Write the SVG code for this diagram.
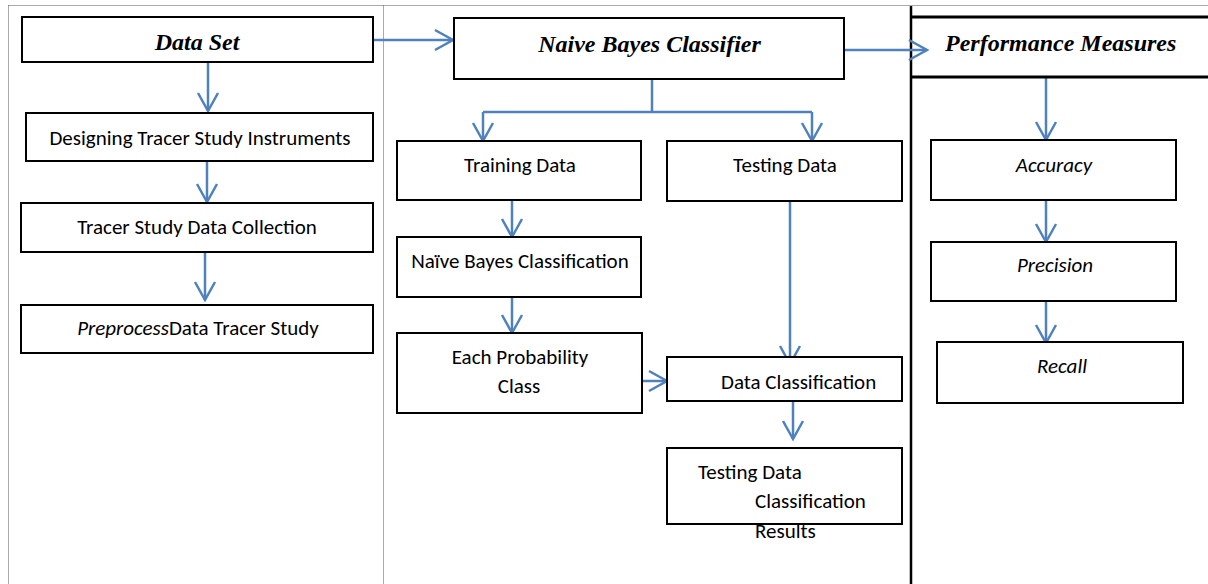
<svg xmlns="http://www.w3.org/2000/svg" width="1208" height="584" viewBox="0 0 1208 584">
<defs>
<marker id="ah" markerUnits="userSpaceOnUse" markerWidth="24" markerHeight="24" viewBox="-20 -12 24 24" refX="0" refY="0" orient="auto">
<path d="M-18,-10 L0,0 L-18,10" fill="none" stroke="#4F81BD" stroke-width="2.5"/>
</marker>
<style>
.box{fill:#fff;stroke:#000;stroke-width:2}
.c{fill:none;stroke:#4F81BD;stroke-width:2.5}
.a{fill:none;stroke:#4F81BD;stroke-width:2.5;marker-end:url(#ah)}
.dot{fill:none;stroke:#555;stroke-width:1;stroke-dasharray:1 1}
.h{font-family:"Liberation Serif","Times New Roman",serif;font-weight:bold;font-style:italic;font-size:24px;fill:#000}
.t{font-family:Carlito,Lato,"Open Sans",sans-serif;font-size:21px;fill:#000}
.i{font-style:italic}
</style>
</defs>
<rect width="1208" height="584" fill="#fff"/>
<g id="frame">
<line class="dot" x1="8.5" y1="5.5" x2="1208" y2="5.5"/>
<line class="dot" x1="8.5" y1="5.5" x2="8.5" y2="584"/>
<line class="dot" x1="383.5" y1="5.5" x2="383.5" y2="584"/>
<line x1="911" y1="6" x2="911" y2="584" stroke="#000" stroke-width="2.5"/>
</g>
<g id="connectors">
<line class="a" x1="373" y1="40" x2="453" y2="40"/>
<line class="a" x1="844" y1="50" x2="927" y2="50"/>
<line class="a" x1="208" y1="62" x2="208" y2="111"/>
<line class="a" x1="207" y1="161" x2="207" y2="202"/>
<line class="a" x1="205" y1="252" x2="205" y2="300"/>
<polyline class="c" points="652,79 652,112"/>
<line class="c" x1="483" y1="112" x2="812" y2="112"/>
<line class="a" x1="483" y1="112" x2="483" y2="141"/>
<line class="a" x1="812" y1="112" x2="812" y2="141"/>
<line class="a" x1="512" y1="200" x2="512" y2="237"/>
<line class="a" x1="512" y1="297" x2="512" y2="333"/>
<line class="a" x1="642" y1="381" x2="667" y2="381"/>
<line class="a" x1="790" y1="201" x2="790" y2="364"/>
<line class="a" x1="793" y1="401" x2="793" y2="439"/>
<line class="a" x1="1046" y1="78" x2="1046" y2="140"/>
<line class="a" x1="1046" y1="200" x2="1046" y2="242"/>
<line class="a" x1="1046" y1="301" x2="1046" y2="343"/>
</g>
<g id="data-set">
<rect class="box" x="22" y="17" width="351" height="45"/>
<text class="h" x="197" y="50" text-anchor="middle">Data Set</text>
</g>
<g id="designing">
<rect class="box" x="26" y="113" width="347" height="48"/>
<text class="t" x="200" y="145" text-anchor="middle">Designing Tracer Study Instruments</text>
</g>
<g id="collection">
<rect class="box" x="21" y="203" width="352" height="49"/>
<text class="t" x="197" y="234" text-anchor="middle">Tracer Study Data Collection</text>
</g>
<g id="preprocess">
<rect class="box" x="21" y="305" width="352" height="48"/>
<text class="t" x="198" y="335" text-anchor="middle"><tspan class="i">Preprocess</tspan>Data Tracer Study</text>
</g>
<g id="naive-bayes">
<rect class="box" x="454" y="18" width="390" height="61"/>
<text class="h" x="649.5" y="52" text-anchor="middle">Naive Bayes Classifier</text>
</g>
<g id="training">
<rect class="box" x="397" y="141" width="244" height="59"/>
<text class="t" x="520" y="172" text-anchor="middle">Training Data</text>
</g>
<g id="testing">
<rect class="box" x="667" y="141" width="235" height="60"/>
<text class="t" x="785" y="172" text-anchor="middle">Testing Data</text>
</g>
<g id="nb-classification">
<rect class="box" x="397" y="237" width="244" height="60"/>
<text class="t" x="520" y="268" text-anchor="middle">Naïve Bayes Classification</text>
</g>
<g id="probability">
<rect class="box" x="397" y="333" width="245" height="80"/>
<text class="t" x="520" y="364" text-anchor="middle">Each Probability</text>
<text class="t" x="519" y="393" text-anchor="middle">Class</text>
</g>
<g id="data-classification">
<rect class="box" x="667" y="357" width="235" height="44"/>
<text class="t" x="721" y="389">Data Classification</text>
</g>
<g id="results">
<rect class="box" x="667" y="448" width="235" height="76"/>
<text class="t" x="698" y="479">Testing Data</text>
<text class="t" x="755" y="508">Classification</text>
<text class="t" x="755" y="538">Results</text>
</g>
<g id="performance">
<line x1="911" y1="17" x2="1208" y2="17" stroke="#000" stroke-width="3"/>
<line x1="911" y1="77" x2="1208" y2="77" stroke="#000" stroke-width="3"/>
<text class="h" x="945" y="51">Performance Measures</text>
</g>
<g id="accuracy">
<rect class="box" x="931" y="140" width="245" height="60"/>
<text class="t i" x="1054" y="172" text-anchor="middle">Accuracy</text>
</g>
<g id="precision">
<rect class="box" x="931" y="242" width="245" height="59"/>
<text class="t i" x="1055" y="272" text-anchor="middle">Precision</text>
</g>
<g id="recall">
<rect class="box" x="937" y="342" width="246" height="61"/>
<text class="t i" x="1062" y="373" text-anchor="middle">Recall</text>
</g>
</svg>
